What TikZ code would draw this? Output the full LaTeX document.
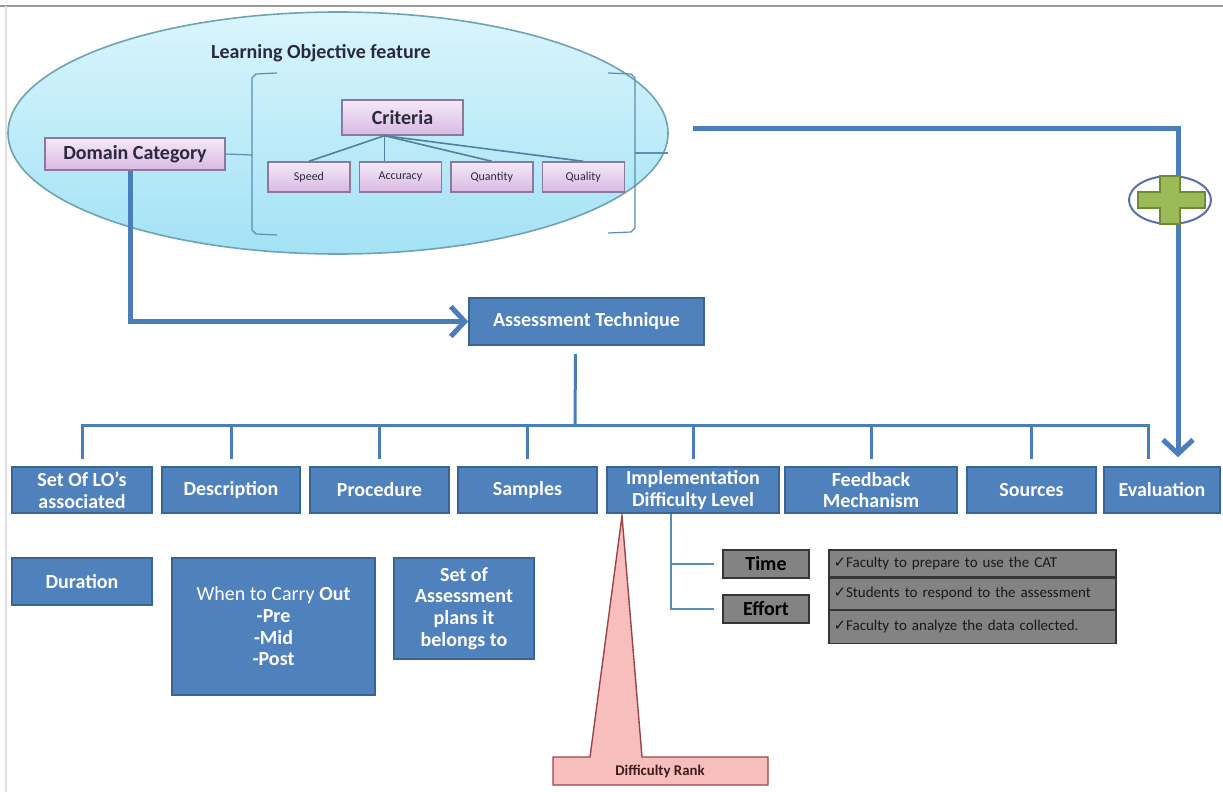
\documentclass[tikz,border=0pt]{standalone}
\usepackage{fontspec}
\setmainfont{Carlito}
\newfontfamily\tickfont{DejaVu Sans}
\usepackage{tikz}
\usetikzlibrary{arrows.meta,shapes.geometric,positioning,calc}
\definecolor{boxblue}{HTML}{4F81BD}
\definecolor{boxedge}{HTML}{3A6396}
\definecolor{linkblue}{HTML}{4A7EBB}
\definecolor{lavtop}{HTML}{F5E9F8}
\definecolor{lavbot}{HTML}{D9B9E3}
\definecolor{lavedge}{HTML}{8C7A9C}
\definecolor{lavtext}{HTML}{2A2A3C}
\definecolor{skytop}{HTML}{DAF5FC}
\definecolor{skybot}{HTML}{A3E2F5}
\definecolor{skyedge}{HTML}{6FA3B4}
\definecolor{brackblue}{HTML}{5B8FB2}
\definecolor{cellgrey}{HTML}{838383}
\definecolor{celledge}{HTML}{353535}
\definecolor{rankpink}{HTML}{F8BDBD}
\definecolor{rankedge}{HTML}{9A4545}
\definecolor{plusgreen}{HTML}{9BBB59}
\definecolor{plusedge}{HTML}{6E8A32}
\definecolor{ringblue}{HTML}{5A6EA8}
\newcommand{\boxfont}{\bfseries\fontsize{10}{10.8}\selectfont}
\tikzset{%
  >={Straight Barb[length=7pt,width=15pt]},
  % Specifications for style of nodes:
            bluebox/.style = {rectangle, draw=boxedge, line width=0.8pt, fill=boxblue,
                              text=white, font=\boxfont, align=center, inner sep=0pt,
                              minimum height=23pt},
            lavbox/.style  = {rectangle, draw=lavedge, line width=0.7pt, top color=lavtop,
                              bottom color=lavbot, text=lavtext, align=center, inner sep=0pt},
            greybox/.style = {rectangle, draw=celledge, line width=0.8pt, fill=cellgrey,
                              font=\boxfont, inner sep=0pt, minimum width=43pt, minimum height=14pt},
            catcell/.style = {rectangle, draw=celledge, line width=0.6pt, fill=cellgrey,
                              text=black!90, font=\fontsize{7.5}{8}\selectfont, align=left,
                              text width=139pt, inner xsep=2.25pt, inner ysep=0pt},
            bigarrow/.style = {draw=linkblue, line width=2.5pt},
            bus/.style     = {draw=linkblue, line width=1.5pt},
            treeline/.style = {draw=brackblue, line width=0.6pt},
            critline/.style = {draw=brackblue!90!black, line width=0.8pt},
            bracket/.style = {draw=brackblue, line width=0.6pt}
                           }

\begin{document}
\begin{tikzpicture}[x=0.5pt, y=-0.5pt, node distance=4pt]
\useasboundingbox (0,0) rectangle (1223,792);
\fill[white] (0,0) rectangle (1223,792);
\draw[black!40, line width=1pt] (0,6) -- (1223,6);
\draw[black!12, line width=0.8pt] (6,6) -- (6,792);

% learning objective cloud
\node (lofeat) [ellipse, draw=skyedge, line width=0.8pt, top color=skytop, bottom color=skybot,
                minimum width=330pt, minimum height=121pt, inner sep=0pt] at (338,133) {};
\node (lotitle) at (321,53) {\boxfont\color{lavtext}Learning Objective feature};

\node (domain)   [lavbox, font=\boxfont, minimum width=90pt, minimum height=16pt] at (135,154) {Domain Category};
\node (criteria) [lavbox, font=\boxfont, minimum width=60.5pt, minimum height=17.5pt] at (402.5,117.5) {Criteria};
\node (speed)    [lavbox, font=\fontsize{6}{7}\selectfont, minimum width=41pt, minimum height=15pt] at (309,177) {Speed};
\node (accuracy) [lavbox, font=\fontsize{6}{7}\selectfont, minimum width=41pt, minimum height=15pt, right=of speed] {Accuracy};
\node (quantity) [lavbox, font=\fontsize{6}{7}\selectfont, minimum width=41pt, minimum height=15pt, right=of accuracy] {Quantity};
\node (quality)  [lavbox, font=\fontsize{6}{7}\selectfont, minimum width=41pt, minimum height=15pt, right=of quantity] {Quality};

\coordinate (critfoot) at ($(criteria.south)+(-18,0)$);
\draw[critline] (critfoot) -- (speed.north);
\draw[critline] (critfoot) -- (critfoot |- accuracy.north);
\draw[critline] (critfoot) -- (quantity.north);
\draw[critline] (critfoot) -- (quality.north);

\draw[bracket] (277,73) -- (256,74) -- (252,78) -- (252,230) -- (256,234) -- (277,235);
\draw[bracket] (608,73) -- (631,74) -- (635,78) -- (635,228) -- (631,232) -- (608,233);
\draw[bracket] (domain.east) -- (252,155);
\draw[bracket] (635,153) -- (668,153);

% assessment technique and its features
\node (assess) [bluebox, minimum width=117.5pt, minimum height=23.5pt] at (586.5,321.5) {Assessment Technique};

\node (lo)     [bluebox, minimum width=70pt]   at (82,490)     {Set Of LO’s\\associated};
\node (desc)   [bluebox, minimum width=69pt]   at (231,490)    {Description};
\node (proc)   [bluebox, minimum width=69.5pt] at (379.5,490)  {Procedure};
\node (samp)   [bluebox, minimum width=69.5pt] at (527.5,490)  {Samples};
\node (impl)   [bluebox, minimum width=86pt]   at (693,490)    {Implementation\\Difficulty Level};
\node (feed)   [bluebox, minimum width=86pt]   at (871,490)    {Feedback\\Mechanism};
\node (src)    [bluebox, minimum width=64.5pt] at (1031.5,490) {Sources};
\node (eval)   [bluebox, minimum width=58pt]   at (1162,490)   {Evaluation};

\node (dur)    [bluebox, minimum width=70pt, minimum height=23.5pt]    at (82,581.5)    {Duration};
\node (when)   [bluebox, minimum width=101.5pt, minimum height=68.5pt] at (273.5,626.5) {{\mdseries When to Carry} Out\\-Pre\\-Mid\\-Post};
\node (setof)  [bluebox, minimum width=70pt, minimum height=50.5pt]    at (464,608.5)   {Set of\\Assessment\\plans it\\belongs to};

\draw[bigarrow, ->] ([xshift=-2.5pt]domain.south) |- (assess.west);

\coordinate (hub) at (575,425);
\coordinate (busend) at ($(eval.north)+(-14,0)$);
\draw[bus] ($(assess.south)+(-11,8)$) -- (hub);
\draw[bus] ([yshift=3.5pt]lo.north) |- (busend |- hub) -- ([yshift=3.5pt]busend);
\draw[bus] (desc.north |- hub) -- ([yshift=3.5pt]desc.north);
\draw[bus] (proc.north |- hub) -- ([yshift=3.5pt]proc.north);
\draw[bus] (samp.north |- hub) -- ([yshift=3.5pt]samp.north);
\draw[bus] (impl.north |- hub) -- ([yshift=3.5pt]impl.north);
\draw[bus] (feed.north |- hub) -- ([yshift=3.5pt]feed.north);
\draw[bus] (src.north |- hub) -- ([yshift=3.5pt]src.north);

% feature to evaluation, with plus
\coordinate (lostart) at (693,129);
\draw[bigarrow, ->] (lostart) -| ([xshift=8pt, yshift=4.5pt]eval.north);
\draw[ringblue, line width=1pt] (1170,200) ellipse [x radius=41, y radius=24];
\filldraw[fill=plusgreen, draw=plusedge, line width=0.6pt]
   (1160,176) -- (1180,176) -- (1180,192) -- (1205,192) -- (1205,208) -- (1180,208)
   -- (1180,224) -- (1160,224) -- (1160,208) -- (1138,208) -- (1138,192) -- (1160,192) -- cycle;

% difficulty level
\node (time)   [greybox] at (766,564) {Time};
\node (effort) [greybox] at (766,609) {Effort};
\coordinate (implstem) at ($(impl.south)+(-22,0)$);
\draw[treeline] (implstem) |- ([xshift=-4pt]time.west);
\draw[treeline] (implstem) |- ([xshift=-4pt]effort.west);

\node (cat1) [catcell, minimum height=13.5pt] at (972.5,563.5) {{\tickfont ✓}Faculty to prepare to use the CAT};
\node (cat2) [catcell, minimum height=15.5pt, below=0pt of cat1] {{\tickfont ✓}Students to respond to the assessment};
\node (cat3) [catcell, minimum height=16.5pt, below=0pt of cat2] {{\tickfont ✓}Faculty to analyze the data collected.};

\filldraw[fill=rankpink, draw=rankedge, line width=0.7pt]
   (622,516) -- (642,757) -- (768,757) -- (768,785) -- (553,785) -- (553,757) -- (590,757) -- cycle;
\node (rank) at (660,771) {\bfseries\fontsize{7.4}{8}\selectfont\color{rankedge!40!black}Difficulty Rank};
\end{tikzpicture}
\end{document}
